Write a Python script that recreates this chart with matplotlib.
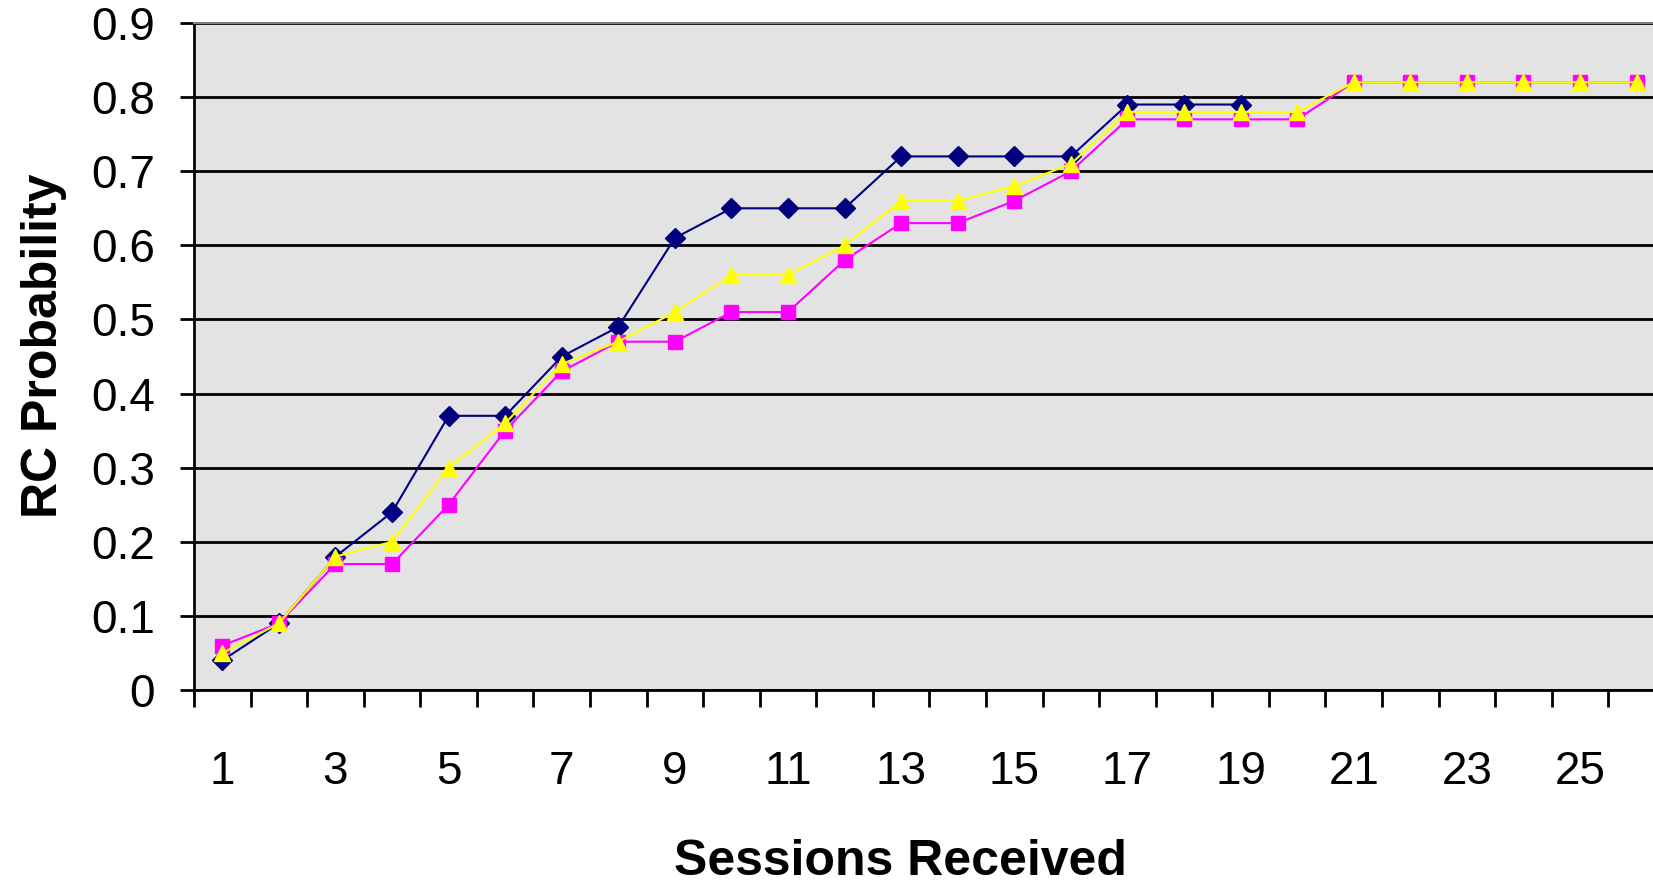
import matplotlib.pyplot as plt
import numpy as np

plt.rcParams['font.family'] = ['Liberation Sans', 'DejaVu Sans']

sessions = np.arange(1, 27)
navy_vals = [0.04, 0.09, 0.18, 0.24, 0.37, 0.37, 0.45, 0.49, 0.61, 0.65, 0.65, 0.65,
             0.72, 0.72, 0.72, 0.72, 0.79, 0.79, 0.79]
pink_vals = [0.06, 0.09, 0.17, 0.17, 0.25, 0.35, 0.43, 0.47, 0.47, 0.51, 0.51, 0.58,
             0.63, 0.63, 0.66, 0.70, 0.77, 0.77, 0.77, 0.77,
             0.82, 0.82, 0.82, 0.82, 0.82, 0.82]
yellow_vals = [0.05, 0.09, 0.18, 0.20, 0.30, 0.36, 0.44, 0.47, 0.51, 0.56, 0.56, 0.60,
               0.66, 0.66, 0.68, 0.71, 0.78, 0.78, 0.78, 0.78,
               0.82, 0.82, 0.82, 0.82, 0.82, 0.82]
x_labels = [str(i) if i % 2 == 1 else '' for i in sessions]

fig = plt.figure(figsize=(16.53, 8.85), dpi=100)
ax = fig.add_axes([0.1174, 0.2203, 1 - 0.1174, 0.974 - 0.2203])
ax.set_facecolor('#E3E3E3')

ax.plot(sessions[:len(navy_vals)], navy_vals, color='#000080', marker='D',
        markersize=10, lw=1.5, clip_on=False, zorder=3)
ax.plot(sessions, pink_vals, color='#FF00FF', marker='s',
        markersize=9.5, lw=1.5, clip_on=False, zorder=4)
ax.plot(sessions, yellow_vals, color='#FFFF00', marker='^',
        markersize=12, lw=1.5, clip_on=False, zorder=5)

ax.set_xlim(0.5, 26.29)
ax.set_ylim(0, 0.9)
ax.set_yticks(np.arange(0, 0.91, 0.1))
ax.set_yticklabels(['0'] + ['%.1f' % v for v in np.arange(0.1, 0.91, 0.1)])
ax.set_xticks(sessions)
ax.set_xticklabels(x_labels)
ax.set_xticks(np.arange(0.5, 26.5, 1), minor=True)
ax.tick_params(axis='x', which='major', length=0, pad=43, labelsize=33)
ax.tick_params(axis='x', which='minor', length=12, width=2, direction='out', color='black')
ax.tick_params(axis='y', length=10, width=2, labelsize=33, pad=18)

ax.yaxis.grid(True, color='black', lw=2)
ax.set_axisbelow(True)
ax.spines['right'].set_visible(False)
ax.spines['top'].set_color('#808080')
ax.spines['top'].set_linewidth(1.5)
ax.spines['left'].set_linewidth(2)
ax.spines['bottom'].set_linewidth(2)

ax.set_xlabel('Sessions Received', fontsize=36, fontweight='bold')
ax.xaxis.set_label_coords(0.484, -0.224)
ax.set_ylabel('RC Probability', fontsize=36, fontweight='bold')
ax.yaxis.set_label_coords(-0.087, 0.516)

fig.savefig('out.png', dpi=100)
